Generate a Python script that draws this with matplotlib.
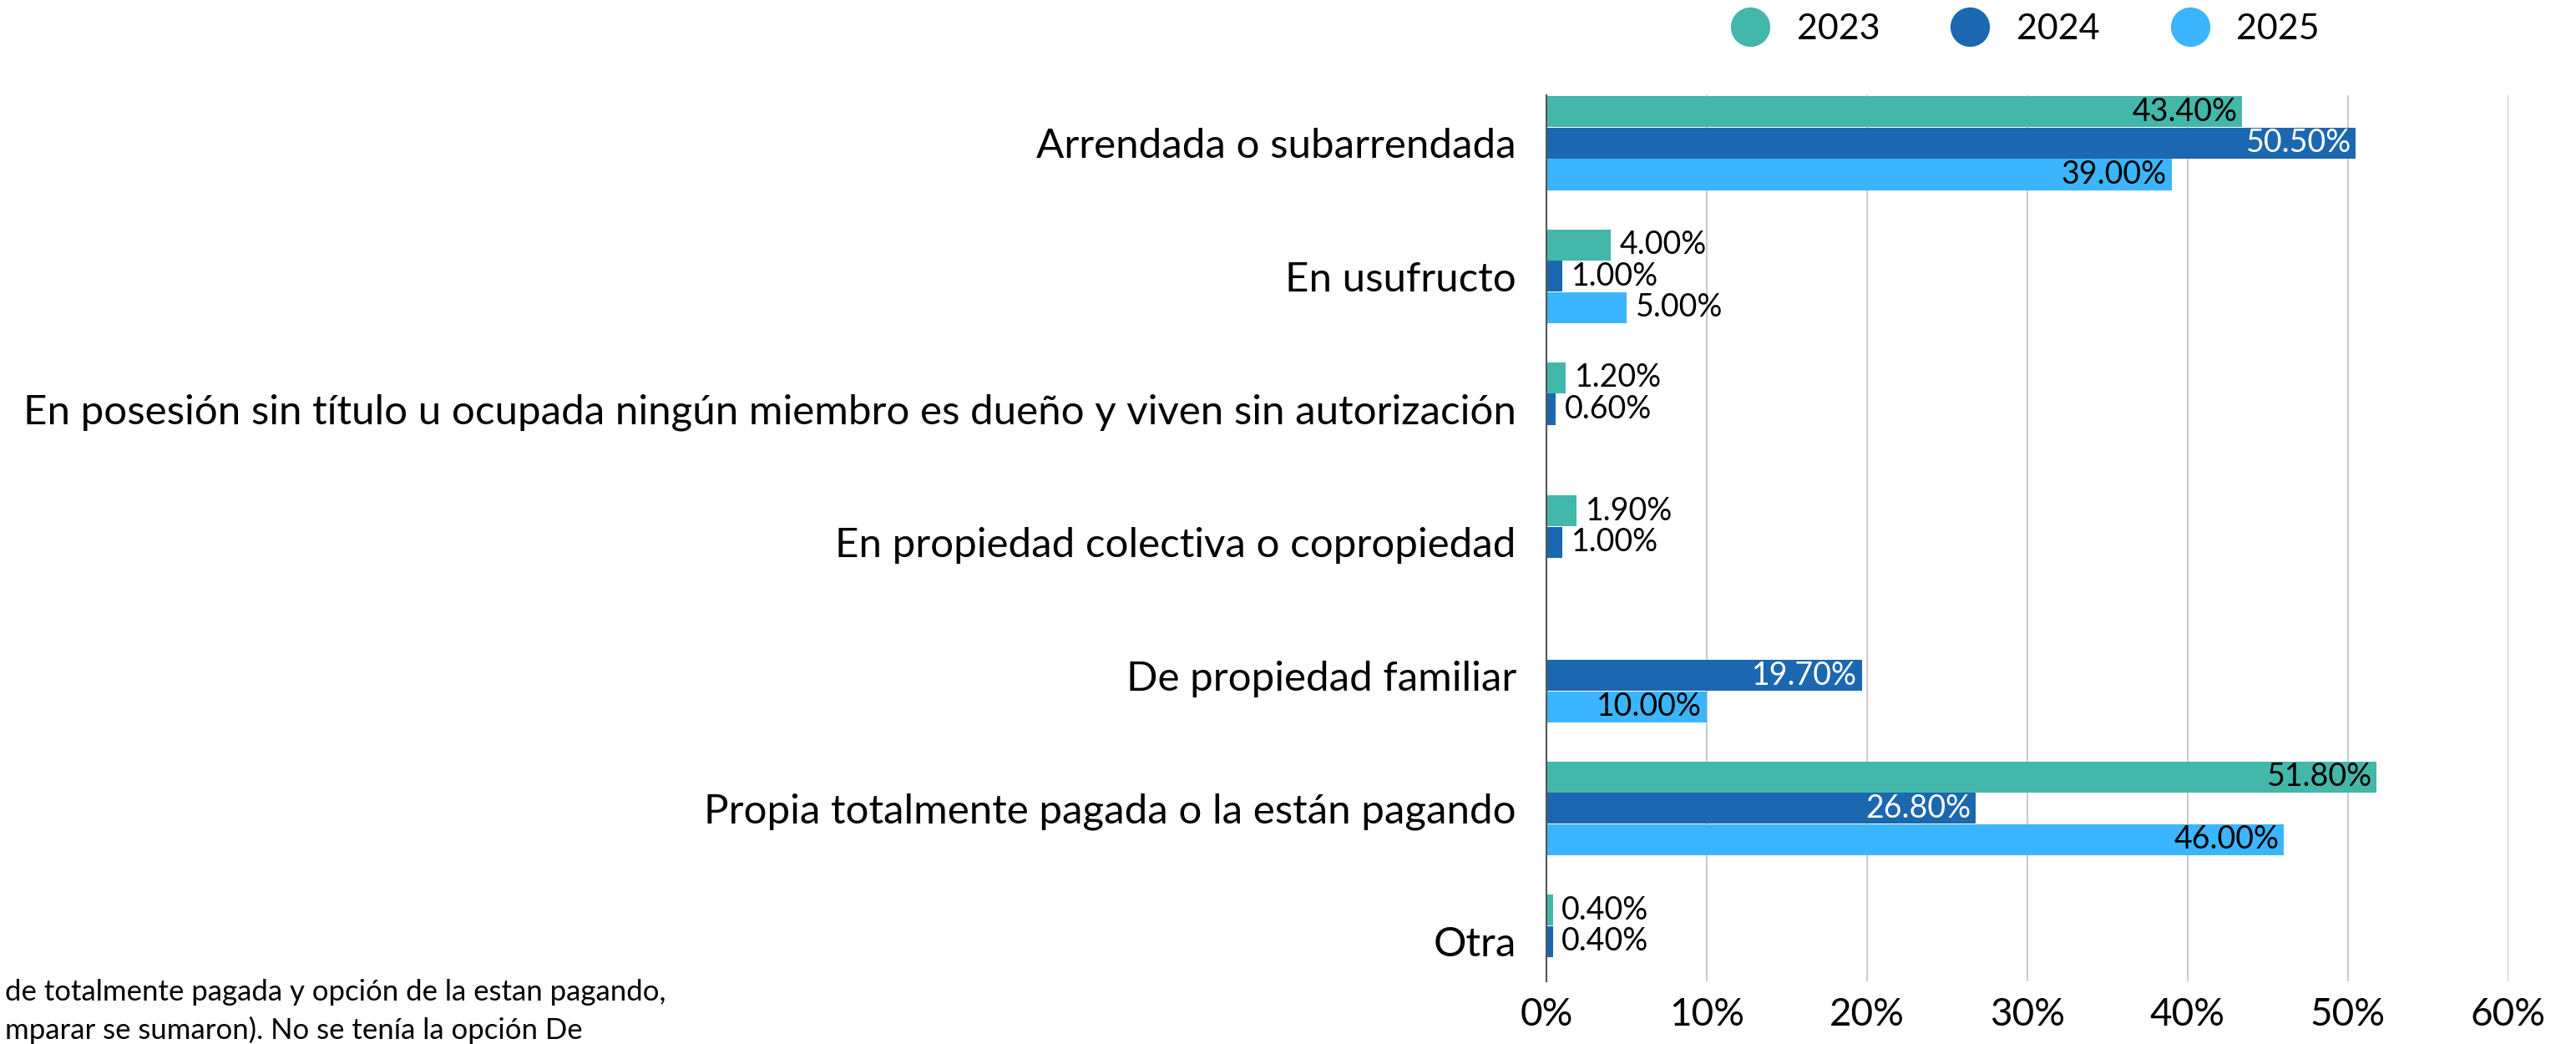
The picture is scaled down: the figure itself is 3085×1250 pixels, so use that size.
import numpy as np
import matplotlib.pyplot as plt
from matplotlib.lines import Line2D

plt.rcParams['font.family'] = ['Lato', 'DejaVu Sans']

categories = [
    "Arrendada o subarrendada",
    "En usufructo",
    "En posesión sin título u ocupada ningún miembro es dueño y viven sin autorización",
    "En propiedad colectiva o copropiedad",
    "De propiedad familiar",
    "Propia totalmente pagada o la están pagando",
    "Otra",
]
years = ["2023", "2024", "2025"]
# None = sin dato
v2023 = [43.4, 4.0, 1.2, 1.9, None, 51.8, 0.4]
v2024 = [50.5, 1.0, 0.6, 1.0, 19.7, 26.8, 0.4]
v2025 = [39.0, 5.0, None, None, 10.0, 46.0, None]
colors = ["#43B7AA", "#1B67B0", "#3BB5FE"]
text_inside = ["black", "white", "black"]
footnote = ["de totalmente pagada y opción de la estan pagando,",
            "mparar se sumaron). No se tenía la opción De"]

fig = plt.figure(figsize=(30.85, 12.5), dpi=100)
ax = fig.add_axes([0.6003, 0.06, 0.3734, 0.8488])

y = np.arange(len(categories))
h = 0.233
offs = [-0.236, 0, 0.236]
series = [v2023, v2024, v2025]

for s, vals in enumerate(series):
    for i, v in enumerate(vals):
        if v is None:
            continue
        yy = y[i] + offs[s]
        ax.barh(yy, v, height=h, color=colors[s], edgecolor='none')
        lab = "%.2f%%" % v
        if v > 8:
            ax.text(v - 0.3, yy, lab, ha='right', va='center', fontsize=27,
                    color=text_inside[s])
        else:
            ax.text(v + 0.55, yy, lab, ha='left', va='center', fontsize=27,
                    color='black')

ax.set_xlim(0, 60)
ax.set_ylim(6.3, -0.36)
ax.set_xticks(np.arange(0, 61, 10))
ax.set_xticklabels(["%d%%" % t for t in range(0, 61, 10)], fontsize=33)
ax.set_yticks(y)
ax.set_yticklabels(categories, fontsize=35.5)
ax.tick_params(axis='y', length=0, pad=26)
ax.tick_params(axis='x', length=0, pad=14)
for sp in ['top', 'right', 'bottom']:
    ax.spines[sp].set_visible(False)
ax.spines['left'].set_color('#555555')
ax.spines['left'].set_linewidth(1.5)
ax.grid(axis='x', color='#CCCCCC', linewidth=1.5)
ax.set_axisbelow(True)

handles = [Line2D([0], [0], marker='o', linestyle='none', markersize=34,
                  markerfacecolor=c, markeredgecolor='none') for c in colors]
fig.legend(handles, years, loc='center', bbox_to_anchor=(0.783, 0.972),
           ncol=3, frameon=False, fontsize=31, handletextpad=0.3,
           columnspacing=1.5)

fig.text(0.002, 0.05, footnote[0], fontsize=25, va='center', ha='left')
fig.text(0.002, 0.013, footnote[1], fontsize=25, va='center', ha='left')

fig.savefig("out.png", dpi=100)
